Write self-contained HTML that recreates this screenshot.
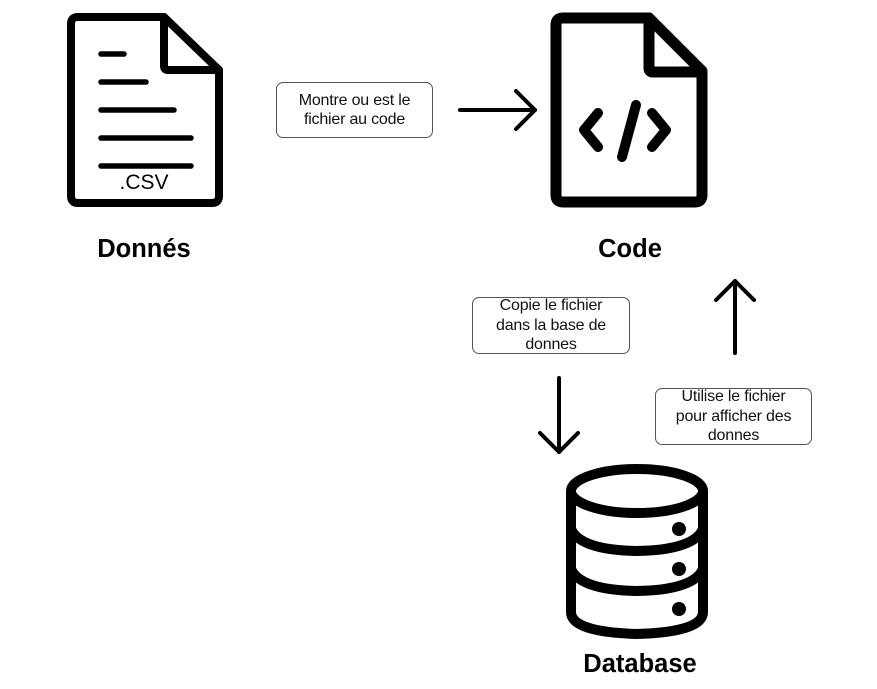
<!DOCTYPE html>
<html><head><style>
body{margin:0;background:#fff;width:877px;height:689px;position:relative;overflow:hidden;font-family:"Liberation Sans",sans-serif}
.lbl{position:absolute;border:1px solid #555;border-radius:7px;background:#fff;font-size:16px;line-height:19.5px;text-align:center;display:flex;align-items:center;justify-content:center;box-sizing:border-box;color:#111;letter-spacing:-0.2px}
.t{position:absolute;font-weight:bold;font-size:25.5px;text-align:center;width:200px}
</style></head><body>
<svg width="877" height="689" style="position:absolute;left:0;top:0" fill="none" stroke="#000" stroke-linecap="round" stroke-linejoin="round">
<path d="M78 17 H164 L219 70 V196 Q219 203 212 203 H78 Q71 203 71 196 V24 Q71 17 78 17 Z" stroke-width="8"/>
<path d="M164 17 V66 Q164 70 168 70 H219" stroke-width="8"/>
<g stroke-width="5.5">
<line x1="101" y1="54" x2="124" y2="54"/>
<line x1="101" y1="82" x2="146" y2="82"/>
<line x1="101" y1="110" x2="174" y2="110"/>
<line x1="101" y1="138" x2="191" y2="138"/>
<line x1="101" y1="166" x2="191" y2="166"/>
</g>
<path d="M563 18 H649 L702 71 V195 Q702 202 695 202 H563 Q556 202 556 195 V25 Q556 18 563 18 Z" stroke-width="11"/>
<path d="M649 18 V68 Q649 72 653 72 H702" stroke-width="11"/>
<g stroke-width="10">
<polyline points="598,113 584,130 598,147"/>
<line x1="636" y1="105" x2="622" y2="157"/>
<polyline points="652,113 666,130 652,147"/>
</g>
<g stroke-width="10">
<ellipse cx="637" cy="491" rx="66" ry="22"/>
<path d="M571 491 V612 Q571 632 637 634 Q703 632 703 612 V491"/>
<path d="M571 529 Q580 550 637 551 Q694 550 703 529"/>
<path d="M571 569 Q580 590 637 591 Q694 590 703 569"/>
</g>
<g fill="#000" stroke="none">
<circle cx="679" cy="529" r="7"/><circle cx="679" cy="569" r="7"/><circle cx="679" cy="609" r="7"/>
</g>
<g stroke-width="4">
<line x1="460" y1="110" x2="535" y2="110"/><polyline points="516,91 535,110 516,129"/>
<line x1="559" y1="378" x2="559" y2="452"/><polyline points="540,433 559,452 578,433"/>
<line x1="735" y1="353" x2="735" y2="281"/><polyline points="716,300 735,281 754,300"/>
</g>
</svg>
<div style="position:absolute;left:104px;top:171px;width:80px;text-align:center;font-size:21px">.CSV</div>
<div class="lbl" style="left:276px;top:82px;width:157px;height:56px">Montre ou est le<br>fichier au code</div>
<div class="lbl" style="left:472px;top:297px;width:158px;height:57px">Copie le fichier<br>dans la base de<br>donnes</div>
<div class="lbl" style="left:655px;top:388px;width:157px;height:57px">Utilise le fichier<br>pour afficher des<br>donnes</div>
<div class="t" style="left:44px;top:235px">Donnés</div>
<div class="t" style="left:530px;top:235px">Code</div>
<div class="t" style="left:540px;top:650px">Database</div>
</body></html>
